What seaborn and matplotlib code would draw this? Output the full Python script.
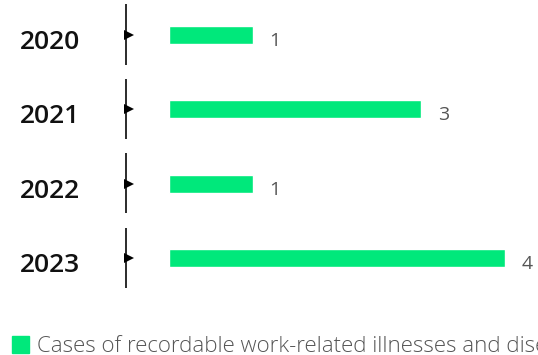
import matplotlib
matplotlib.use("Agg")
import matplotlib.pyplot as plt
import matplotlib.transforms as mtransforms
import seaborn as sns
import pandas as pd

# Recordable work-related illnesses and diseases by year
years = ["2020", "2021", "2022", "2023"]
cases = [1, 3, 1, 4]
series_label = "Cases of recordable work-related illnesses and diseases"

bar_color = "#00E87B"
text_gray = "#555555"

sns.set_theme(style="white")
plt.rcParams["font.family"] = ["Open Sans", "DejaVu Sans"]

W, H, DPI = 538, 355, 100
fig = plt.figure(figsize=(W / DPI, H / DPI), dpi=DPI)

# Axes covering the bar area (pixel geometry converted to figure fractions)
left_px, right_px = 169, 505
top_px, bottom_px = 0, 295
ax = fig.add_axes([left_px / W, (H - bottom_px) / H,
                   (right_px - left_px) / W, (bottom_px - top_px) / H])

df = pd.DataFrame({"year": years, "cases": cases})
sns.barplot(data=df, x="cases", y="year", orient="h", color=bar_color,
            width=0.24, saturation=1, ax=ax)

ax.set_xlim(0, 4)
ax.set_ylim(3.497, -0.47)
ax.axis("off")

# Value labels at the end of each bar
for i, v in enumerate(cases):
    ax.annotate(str(v), xy=(v, i), xytext=(12, -8), textcoords="offset points",
                ha="left", va="baseline", fontsize=14, color=text_gray,
                annotation_clip=False)

# Per-row separator line with a small pointer, plus the year label
fig_x = mtransforms.blended_transform_factory(fig.transFigure, ax.transData)
for i, y in enumerate(years):
    ax.plot([125.5 / W, 125.5 / W], [i - 0.41, i + 0.40], color="#2b2b2b",
            lw=1.4, transform=fig_x, clip_on=False, solid_capstyle="butt")
    ax.plot([128.8 / W], [i], marker=">", markersize=7, color="black",
            markeredgewidth=0, transform=fig_x, clip_on=False)
    ax.annotate(y, xy=(50 / W, i), xycoords=fig_x, xytext=(0, -10),
                textcoords="offset points", ha="center", va="baseline",
                fontsize=19, fontweight="semibold", color="#111111",
                annotation_clip=False)

# Legend entry along the bottom
fig.patches.append(plt.Rectangle((12 / W, (H - 353) / H), 17 / W, 17 / H,
                                 transform=fig.transFigure, color=bar_color))
fig.text(37 / W, (H - 352) / H, series_label, ha="left", va="baseline",
         fontsize=16, color=text_gray, fontweight="light")

fig.savefig("out.png", dpi=DPI)
